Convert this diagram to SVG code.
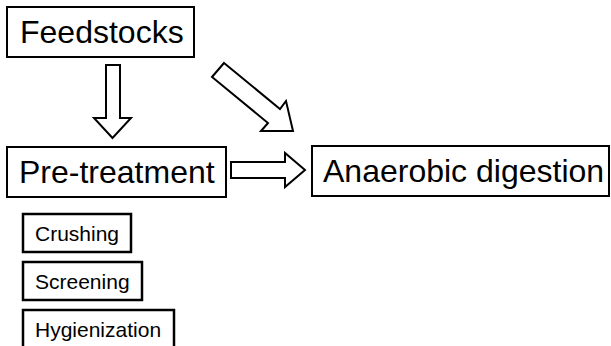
<svg xmlns="http://www.w3.org/2000/svg" width="611" height="346" viewBox="0 0 611 346">
<style>
.box{fill:#fff;stroke:#000;stroke-width:2}
.sbox{fill:#fff;stroke:#000;stroke-width:2.5}
.big{font-family:"Liberation Sans",Arial,sans-serif;font-size:32px;fill:#000}
.small{font-family:"Liberation Sans",Arial,sans-serif;font-size:21px;fill:#000}
.arrow{fill:#fff;stroke:#000;stroke-width:2;stroke-linejoin:miter}
</style>
<rect width="611" height="346" fill="#fff"/>
<g id="connectors">
<polygon class="arrow" points="106,65 120,65 120,118 131,118 112.5,138 94,118 106,118"/>
<polygon class="arrow" points="224,63 280,109 286,101 293,131 261,131 268,123 212,77"/>
<polygon class="arrow" points="231,162 285,162 285,153 305,170 285,187 285,178 231,178"/>
</g>
<g id="feedstocks">
<rect class="box" x="7" y="7" width="187" height="50"/>
<text class="big" x="20" y="43">Feedstocks</text>
</g>
<g id="pretreatment">
<rect class="box" x="7" y="147" width="219" height="50"/>
<text class="big" x="19" y="183">Pre-treatment</text>
</g>
<g id="anaerobic">
<rect class="box" x="312" y="146" width="297" height="50"/>
<text class="big" x="323" y="182">Anaerobic digestion</text>
</g>
<g id="crushing">
<rect class="sbox" x="23" y="214" width="108" height="38"/>
<text class="small" x="35" y="241">Crushing</text>
</g>
<g id="screening">
<rect class="sbox" x="23" y="262" width="119" height="38"/>
<text class="small" x="35" y="289">Screening</text>
</g>
<g id="hygienization">
<rect class="sbox" x="23" y="310" width="151" height="38"/>
<text class="small" x="35" y="337">Hygienization</text>
</g>
</svg>
